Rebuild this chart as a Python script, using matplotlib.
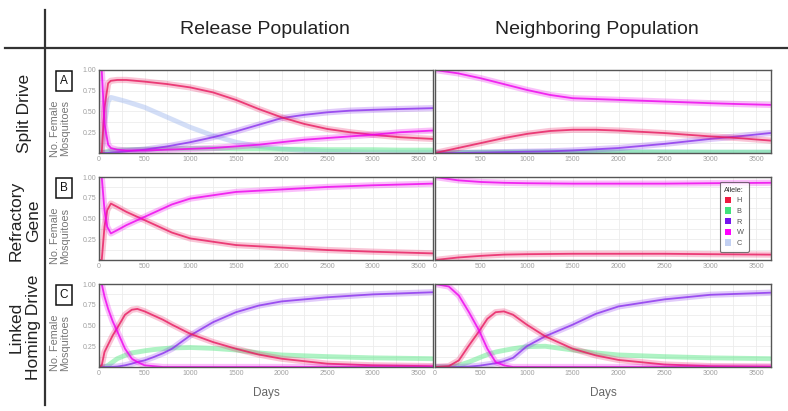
import numpy as np
import matplotlib
matplotlib.use('Agg')
import matplotlib.pyplot as plt
from matplotlib.patches import Patch

plt.rcParams['font.family'] = ['Liberation Sans', 'DejaVu Sans']

# allele frequencies, day -> fraction of females
# row A: split drive
a_rel_days = [0, 30, 60, 100, 130, 200, 300, 500, 750, 1000, 1250, 1500, 1750, 2000, 2250, 2500, 2750, 3000, 3300, 3650]
a_rel_H = [0, 0.0, 0.55, 0.84, 0.87, 0.88, 0.88, 0.86, 0.83, 0.79, 0.73, 0.64, 0.53, 0.43, 0.35, 0.29, 0.25, 0.22, 0.19, 0.17]
a_rel_W = [1.0, 1.0, 0.35, 0.10, 0.06, 0.04, 0.03, 0.03, 0.04, 0.05, 0.06, 0.08, 0.10, 0.13, 0.16, 0.18, 0.20, 0.22, 0.25, 0.27]
a_rel_C = [0, 0, 0.35, 0.62, 0.67, 0.65, 0.62, 0.55, 0.43, 0.31, 0.21, 0.13, 0.08, 0.05, 0.03, 0.02, 0.015, 0.01, 0.01, 0.01]
a_rel_R = [0, 0, 0, 0, 0.005, 0.01, 0.02, 0.04, 0.08, 0.13, 0.19, 0.26, 0.34, 0.42, 0.46, 0.49, 0.51, 0.52, 0.53, 0.54]
a_rel_B = [0, 0, 0.01, 0.02, 0.03, 0.035, 0.04, 0.045, 0.05, 0.055, 0.055, 0.05, 0.05, 0.045, 0.045, 0.04, 0.04, 0.04, 0.035, 0.035]

a_nb_days = [0, 250, 500, 750, 1000, 1250, 1500, 1750, 2000, 2500, 3000, 3300, 3650]
a_nb_W = [1.0, 0.96, 0.90, 0.83, 0.76, 0.70, 0.66, 0.65, 0.64, 0.62, 0.60, 0.59, 0.58]
a_nb_H = [0.0, 0.06, 0.12, 0.18, 0.23, 0.265, 0.28, 0.28, 0.27, 0.24, 0.20, 0.18, 0.15]
a_nb_R = [0, 0.0, 0.005, 0.01, 0.015, 0.02, 0.03, 0.045, 0.06, 0.11, 0.17, 0.20, 0.24]
a_nb_B = [0, 0.005, 0.01, 0.01, 0.01, 0.01, 0.01, 0.01, 0.01, 0.01, 0.01, 0.01, 0.01]
a_nb_C = [0, 0.002, 0.005, 0.01, 0.015, 0.02, 0.02, 0.02, 0.02, 0.015, 0.01, 0.01, 0.01]

# row B: refractory gene
b_rel_days = [0, 30, 60, 90, 130, 200, 300, 460, 600, 800, 1000, 1250, 1500, 2000, 2500, 3000, 3650]
b_rel_W = [1.0, 1.0, 0.6, 0.4, 0.32, 0.36, 0.42, 0.50, 0.57, 0.67, 0.74, 0.78, 0.82, 0.85, 0.88, 0.90, 0.92]
b_rel_H = [0.0, 0.0, 0.4, 0.6, 0.68, 0.64, 0.58, 0.50, 0.43, 0.33, 0.26, 0.22, 0.18, 0.15, 0.12, 0.10, 0.08]

b_nb_days = [0, 250, 500, 750, 1000, 1500, 2000, 2500, 3000, 3650]
b_nb_W = [1.0, 0.96, 0.94, 0.93, 0.925, 0.92, 0.92, 0.92, 0.925, 0.93]
b_nb_H = [0.0, 0.03, 0.05, 0.065, 0.07, 0.075, 0.075, 0.075, 0.07, 0.065]

# row C: linked homing drive
c_rel_days = [0, 30, 60, 100, 150, 200, 285, 360, 420, 500, 600, 700, 800, 1000, 1250, 1500, 1750, 2000, 2500, 3000, 3650]
c_rel_W = [1.0, 1.0, 0.85, 0.70, 0.55, 0.43, 0.22, 0.10, 0.06, 0.02, 0.01, 0, 0, 0, 0, 0, 0, 0, 0, 0, 0]
c_rel_H = [0.0, 0.02, 0.18, 0.27, 0.38, 0.47, 0.63, 0.69, 0.70, 0.67, 0.62, 0.57, 0.51, 0.40, 0.30, 0.22, 0.15, 0.10, 0.04, 0.02, 0.01]
c_rel_R = [0, 0, 0, 0, 0.002, 0.005, 0.02, 0.04, 0.06, 0.08, 0.12, 0.165, 0.22, 0.38, 0.54, 0.66, 0.74, 0.79, 0.84, 0.875, 0.90]
c_rel_B = [0, 0, 0, 0.02, 0.06, 0.10, 0.14, 0.17, 0.18, 0.195, 0.21, 0.22, 0.23, 0.235, 0.225, 0.205, 0.17, 0.145, 0.125, 0.11, 0.10]

c_nb_days = [0, 150, 260, 370, 480, 570, 660, 750, 850, 1000, 1200, 1500, 1750, 2000, 2500, 3000, 3650]
c_nb_W = [1.0, 0.97, 0.86, 0.66, 0.44, 0.22, 0.06, 0.02, 0.0, 0, 0, 0, 0, 0, 0, 0, 0]
c_nb_H = [0.0, 0.01, 0.08, 0.26, 0.43, 0.58, 0.66, 0.67, 0.63, 0.51, 0.37, 0.22, 0.14, 0.085, 0.03, 0.01, 0.005]
c_nb_R = [0, 0, 0, 0.005, 0.015, 0.03, 0.045, 0.07, 0.11, 0.25, 0.37, 0.51, 0.64, 0.73, 0.815, 0.87, 0.895]
c_nb_B = [0, 0, 0.02, 0.06, 0.11, 0.15, 0.18, 0.20, 0.22, 0.245, 0.25, 0.205, 0.17, 0.145, 0.125, 0.11, 0.10]

alleles = ['H', 'B', 'R', 'W', 'C']
line_col = {'H': '#e8185e', 'B': '#5ee88a', 'R': '#8a30ee', 'W': '#ee00ee', 'C': '#a9bff0'}
key_col = {'H': '#ee1a40', 'B': '#3fe27c', 'R': '#7512ee', 'W': '#ff00ff', 'C': '#c2d0f2'}

panels = [
    [(a_rel_days, {'C': a_rel_C, 'B': a_rel_B, 'R': a_rel_R, 'H': a_rel_H, 'W': a_rel_W}),
     (a_nb_days, {'C': a_nb_C, 'B': a_nb_B, 'R': a_nb_R, 'H': a_nb_H, 'W': a_nb_W})],
    [(b_rel_days, {'H': b_rel_H, 'W': b_rel_W}),
     (b_nb_days, {'H': b_nb_H, 'W': b_nb_W})],
    [(c_rel_days, {'B': c_rel_B, 'R': c_rel_R, 'H': c_rel_H, 'W': c_rel_W}),
     (c_nb_days, {'B': c_nb_B, 'R': c_nb_R, 'H': c_nb_H, 'W': c_nb_W})],
]
row_names = ['Split Drive', 'Refractory\nGene', 'Linked\nHoming Drive']
letters = ['A', 'B', 'C']

W_px, H_px = 788, 411
fig = plt.figure(figsize=(W_px / 100, H_px / 100), dpi=100)

# page frame lines
fig.add_artist(plt.Line2D([45 / W_px] * 2, [1 - 10 / H_px, 1 - 405 / H_px], color='#333333', lw=1.6))
fig.add_artist(plt.Line2D([5 / W_px, 1.0], [1 - 48 / H_px] * 2, color='#333333', lw=1.6))
fig.text(265 / W_px, 1 - 30 / H_px, 'Release Population', ha='center', va='center', fontsize=14, color='#222222')
fig.text(597 / W_px, 1 - 30 / H_px, 'Neighboring Population', ha='center', va='center', fontsize=14, color='#222222')

col_x = [(99, 433), (435, 771)]
row_y = [(70, 153), (177, 260), (284, 367)]

for r in range(3):
    y0, y1 = row_y[r]
    for c in range(2):
        x0, x1 = col_x[c]
        ax = fig.add_axes([x0 / W_px, 1 - y1 / H_px, (x1 - x0) / W_px, (y1 - y0) / H_px])
        days, series = panels[r][c]
        for a in ['C', 'B', 'R', 'H', 'W']:
            if a not in series:
                continue
            vals = series[a]
            if a in ('B', 'C'):
                ax.plot(days, vals, color=line_col[a], lw=3.5, alpha=0.5, solid_capstyle='round')
            else:
                ax.plot(days, vals, color=line_col[a], lw=4.5, alpha=0.25, solid_capstyle='round')
                ax.plot(days, vals, color=line_col[a], lw=1.3, alpha=0.8)
        ax.set_xlim(0, 3660)
        ax.set_ylim(0, 1.0)
        ax.set_xticks(np.arange(0, 3501, 500))
        ax.set_xticks(np.arange(250, 3660, 500), minor=True)
        ax.set_yticks([0.25, 0.5, 0.75, 1.0])
        ax.set_yticks([0.125, 0.375, 0.625, 0.875], minor=True)
        ax.grid(True, which='both', color='#ececec', lw=0.6)
        ax.set_axisbelow(True)
        ax.tick_params(which='both', length=0, labelsize=5, colors='#a0a0a0', pad=2)
        if c == 0:
            ax.set_yticklabels(['0.25', '0.50', '0.75', '1.00'])
        else:
            ax.set_yticklabels([])
        for s in ax.spines.values():
            s.set_color('#555555')
            s.set_linewidth(1.0)
        if r == 2:
            ax.set_xlabel('Days', fontsize=8.5, color='#666666', labelpad=7)
        if r == 1 and c == 1:
            handles = [Patch(facecolor=key_col[a], edgecolor='none') for a in alleles]
            leg = ax.legend(handles, alleles, title='Allele:', loc='center right',
                            bbox_to_anchor=(0.945, 0.52), fontsize=5.3, title_fontsize=5.3,
                            handlelength=0.9, handleheight=0.9, handletextpad=0.7,
                            labelspacing=0.42, borderpad=0.65, frameon=True, fancybox=True)
            leg.get_frame().set_edgecolor('#555555')
            leg.get_frame().set_linewidth(0.8)
            for t in leg.get_texts():
                t.set_color('#555555')
            leg.get_title().set_color('#333333')

    yc = (y0 + y1) / 2
    fig.text(25 / W_px, 1 - (yc + 2) / H_px, row_names[r], rotation=90, ha='center', va='center',
             fontsize=12.5, color='#222222', linespacing=1.2)
    fig.text(60 / W_px, 1 - (yc + 17) / H_px, 'No. Female\nMosquitoes', rotation=90, ha='center',
             va='center', fontsize=7.8, color='#777777', linespacing=1.0)
    fig.text(64 / W_px, 1 - (y0 + 11) / H_px, letters[r], ha='center', va='center', fontsize=8.5,
             color='#111111', bbox=dict(boxstyle='square,pad=0.35', facecolor='white',
                                        edgecolor='#111111', lw=1.1))

fig.savefig('out.png', dpi=100)
